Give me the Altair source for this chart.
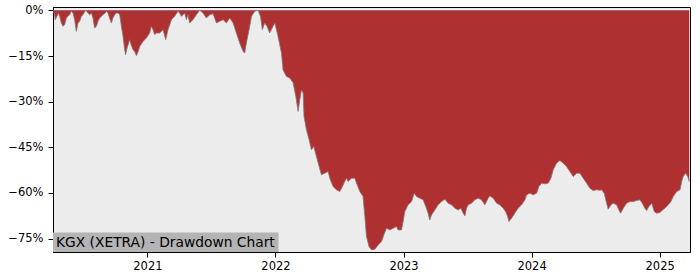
import altair as alt
import pandas as pd

# Dates as decimal years, drawdown in percent
years = [
    2020.263, 2020.273, 2020.281, 2020.294, 2020.305, 2020.315, 2020.328, 2020.341, 2020.354, 2020.367,
    2020.380, 2020.393, 2020.406, 2020.419, 2020.432, 2020.445, 2020.458, 2020.471, 2020.484, 2020.497,
    2020.518, 2020.536, 2020.549, 2020.563, 2020.575, 2020.588, 2020.602, 2020.614, 2020.627, 2020.641,
    2020.653, 2020.666, 2020.680, 2020.692, 2020.705, 2020.719, 2020.731, 2020.745, 2020.758, 2020.770,
    2020.784, 2020.797, 2020.809, 2020.823, 2020.830, 2020.842, 2020.862, 2020.875, 2020.888, 2020.901,
    2020.914, 2020.927, 2020.940, 2020.966, 2020.992, 2021.018, 2021.031, 2021.044, 2021.057, 2021.070,
    2021.096, 2021.122, 2021.143, 2021.161, 2021.188, 2021.213, 2021.239, 2021.252, 2021.266, 2021.291,
    2021.305, 2021.317, 2021.330, 2021.356, 2021.383, 2021.409, 2021.434, 2021.461, 2021.487, 2021.513,
    2021.539, 2021.565, 2021.591, 2021.617, 2021.643, 2021.669, 2021.695, 2021.721, 2021.747, 2021.760,
    2021.773, 2021.794, 2021.813, 2021.838, 2021.864, 2021.883, 2021.898, 2021.916, 2021.934, 2021.955,
    2021.981, 2021.995, 2022.008, 2022.020, 2022.047, 2022.059, 2022.086, 2022.112, 2022.138, 2022.159,
    2022.177, 2022.190, 2022.203, 2022.216, 2022.223, 2022.242, 2022.263, 2022.281, 2022.299, 2022.320,
    2022.341, 2022.359, 2022.385, 2022.411, 2022.424, 2022.450, 2022.477, 2022.502, 2022.523, 2022.541,
    2022.555, 2022.567, 2022.594, 2022.620, 2022.633, 2022.659, 2022.684, 2022.698, 2022.711, 2022.731,
    2022.750, 2022.776, 2022.802, 2022.828, 2022.846, 2022.867, 2022.893, 2022.919, 2022.945, 2022.958,
    2022.984, 2022.997, 2023.010, 2023.036, 2023.063, 2023.083, 2023.102, 2023.127, 2023.153, 2023.174,
    2023.192, 2023.205, 2023.219, 2023.245, 2023.270, 2023.297, 2023.323, 2023.348, 2023.375, 2023.401,
    2023.427, 2023.448, 2023.466, 2023.479, 2023.492, 2023.505, 2023.531, 2023.557, 2023.583, 2023.609,
    2023.635, 2023.661, 2023.674, 2023.700, 2023.727, 2023.752, 2023.778, 2023.797, 2023.813, 2023.823,
    2023.844, 2023.870, 2023.895, 2023.922, 2023.948, 2023.961, 2023.987, 2024.013, 2024.039, 2024.057,
    2024.078, 2024.104, 2024.130, 2024.151, 2024.169, 2024.195, 2024.221, 2024.247, 2024.273, 2024.299,
    2024.325, 2024.352, 2024.377, 2024.403, 2024.430, 2024.455, 2024.481, 2024.508, 2024.534, 2024.547,
    2024.567, 2024.586, 2024.598, 2024.620, 2024.638, 2024.664, 2024.682, 2024.695, 2024.716, 2024.742,
    2024.768, 2024.794, 2024.820, 2024.846, 2024.864, 2024.885, 2024.898, 2024.916, 2024.938, 2024.958,
    2024.977, 2025.002, 2025.023, 2025.041, 2025.067, 2025.088, 2025.106, 2025.133, 2025.159, 2025.172,
    2025.184, 2025.203, 2025.219, 2025.231,
]

drawdown = [
    -0.43, -0.86, -3.06, -1.97, -0.86, -1.97, -4.14, -5.26, -4.70, -2.50,
    -1.97, -1.41, -0.33, -0.86, -3.06, -6.91, -4.14, -3.62, -1.97, -1.41,
    0.0, -0.86, -1.41, -0.86, -2.50, -5.79, -5.26, -3.62, -2.50, -1.97,
    -1.41, -1.09, -0.33, -0.86, -2.50, -4.14, -2.50, -1.41, -0.86, -0.86,
    -1.41, -5.26, -8.32, -12.93, -14.57, -12.27, -9.64, -11.61, -12.93, -13.59,
    -14.90, -13.59, -11.84, -10.20, -9.08, -7.43, -5.26, -6.35, -7.99, -7.43,
    -7.43, -6.35, -9.64, -6.35, -3.06, -1.97, -0.33, -0.86, -1.97, -0.86,
    -3.06, -1.41, -4.14, -3.06, -1.41, 0.0, -0.86, -2.50, -1.41, -1.09,
    -4.14, -3.62, -3.06, -4.14, -2.50, -4.14, -7.43, -10.72, -13.49, -14.01,
    -10.72, -6.35, -1.97, -0.33, 0.0, -1.97, -6.35, -4.14, -5.26, -7.43,
    -5.26, -4.14, -6.35, -8.55, -14.01, -19.51, -21.71, -22.24, -23.78, -28.29,
    -33.22, -29.38, -26.09, -27.17, -34.87, -39.24, -42.53, -45.82, -44.74, -48.03,
    -51.32, -54.05, -53.49, -52.96, -55.13, -57.89, -58.98, -59.54, -57.89, -56.25,
    -55.13, -56.25, -55.13, -55.13, -56.78, -59.54, -61.18, -67.76, -74.34, -77.63,
    -78.72, -78.49, -77.07, -75.99, -73.78, -71.58, -72.14, -71.58, -71.05, -72.14,
    -72.14, -69.41, -66.12, -63.91, -62.83, -60.07, -61.18, -61.71, -62.27, -64.47,
    -66.64, -68.85, -67.20, -65.56, -63.91, -62.83, -62.04, -63.36, -63.91, -65.00,
    -65.56, -65.00, -66.64, -67.53, -65.00, -63.91, -63.36, -62.27, -61.71, -62.27,
    -63.91, -61.71, -60.95, -61.71, -63.36, -63.91, -65.00, -66.12, -67.76, -69.41,
    -68.29, -66.55, -65.00, -63.91, -62.27, -60.63, -60.07, -60.63, -60.07, -57.89,
    -56.78, -57.01, -56.78, -55.13, -52.40, -50.20, -49.34, -50.20, -51.32, -52.96,
    -54.61, -53.49, -53.49, -55.13, -56.78, -58.42, -59.21, -58.98, -59.14, -58.98,
    -60.07, -63.36, -65.33, -63.91, -63.36, -63.91, -65.56, -66.64, -65.00, -63.36,
    -62.83, -62.83, -62.50, -62.27, -63.36, -65.00, -65.79, -64.47, -63.36, -66.12,
    -66.64, -66.45, -65.56, -65.00, -63.91, -62.83, -61.18, -59.54, -58.98, -56.25,
    -54.61, -53.49, -54.61, -56.25,
]

x_ticks = [2021, 2022, 2023, 2024, 2025]
y_ticks = [0, -15, -30, -45, -60, -75]
x_domain = [2020.263, 2025.237]
y_domain = [-79.4, 1.1]
label_text = ["KGX (XETRA) - Drawdown Chart"]

df = pd.DataFrame({"year": years, "dd": drawdown})
lab = pd.DataFrame({"t": label_text})

x_enc = alt.X(
    "year:Q",
    scale=alt.Scale(domain=x_domain, nice=False, zero=False),
    axis=alt.Axis(values=x_ticks, format="d", title=None, grid=False,
                  tickSize=5, labelPadding=3),
)
y_enc = alt.Y(
    "dd:Q",
    scale=alt.Scale(domain=y_domain, nice=False, zero=False),
    axis=alt.Axis(values=y_ticks,
                  labelExpr="replace(format(datum.value, 'd'), '-', '\u2212') + '%'",
                  title=None, grid=False, tickSize=5, labelPadding=5),
)

area = alt.Chart(df).mark_area(color="#af3030", clip=True).encode(
    x=x_enc, y=y_enc, y2=alt.value(0)
)
edge = alt.Chart(df).mark_line(color="#7a7a7a", strokeWidth=1, opacity=0.8, clip=True).encode(
    x="year:Q", y="dd:Q"
)
box = alt.Chart(lab).mark_rect(color="#b4b4b4").encode(
    x=alt.value(0), x2=alt.value(225.5), y=alt.value(225.5), y2=alt.value(245)
)
txt = alt.Chart(lab).mark_text(
    align="left", baseline="middle", font="DejaVu Sans", fontSize=13.8, color="black"
).encode(x=alt.value(3), y=alt.value(235.5), text="t:N")

chart = (
    alt.layer(area, edge, box, txt)
    .properties(
        width=637,
        height=245,
        autosize=alt.AutoSizeParams(type="none"),
        padding={"left": 53, "top": 7, "right": 10, "bottom": 28},
        background="white",
    )
    .configure_view(fill="#ececec", stroke="black", strokeWidth=1)
    .configure_axis(
        domainColor="black", tickColor="black", labelColor="black",
        labelFont="DejaVu Sans", labelFontSize=11.5, domainWidth=1, tickWidth=1,
    )
)

chart.save("out.html", embed_options={"renderer": "svg", "actions": False})
